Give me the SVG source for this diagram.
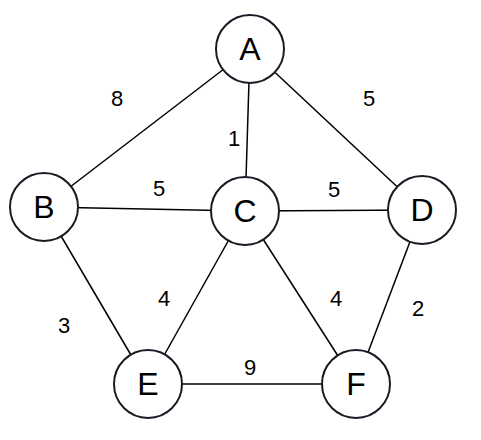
<svg xmlns="http://www.w3.org/2000/svg" width="481" height="440" viewBox="0 0 481 440">
<style>
.edge{stroke:#000;stroke-width:1.5;fill:none}
.node circle{fill:#fff;stroke:#1a1a24;stroke-width:2}
.node text{font-family:"Liberation Sans",Arial,sans-serif;font-size:32px;fill:#000;text-anchor:middle;dominant-baseline:central}
.lbl{font-family:"Liberation Sans",Arial,sans-serif;font-size:22px;fill:#000;text-anchor:middle;dominant-baseline:central}
</style>
<rect width="481" height="440" fill="#fff"/>
<g id="edges">
<line class="edge" x1="250" y1="49" x2="44" y2="207"/>
<line class="edge" x1="250" y1="49" x2="245" y2="211"/>
<line class="edge" x1="250" y1="49" x2="422" y2="210"/>
<line class="edge" x1="44" y1="207" x2="245" y2="211"/>
<line class="edge" x1="245" y1="211" x2="422" y2="210"/>
<line class="edge" x1="44" y1="207" x2="148" y2="384"/>
<line class="edge" x1="245" y1="211" x2="148" y2="384"/>
<line class="edge" x1="245" y1="211" x2="356" y2="384"/>
<line class="edge" x1="422" y1="210" x2="356" y2="384"/>
<line class="edge" x1="148" y1="384" x2="356" y2="384"/>
<text class="lbl" x="117" y="98">8</text>
<text class="lbl" x="234" y="138">1</text>
<text class="lbl" x="369" y="98">5</text>
<text class="lbl" x="159" y="188">5</text>
<text class="lbl" x="334" y="189">5</text>
<text class="lbl" x="164" y="298">4</text>
<text class="lbl" x="336" y="298">4</text>
<text class="lbl" x="64" y="325">3</text>
<text class="lbl" x="418" y="308">2</text>
<text class="lbl" x="250" y="367">9</text>
</g>
<g id="A" class="node"><circle cx="250" cy="49" r="34"/><text x="250" y="49">A</text></g>
<g id="B" class="node"><circle cx="44" cy="207" r="34"/><text x="44" y="207">B</text></g>
<g id="C" class="node"><circle cx="245" cy="211" r="34"/><text x="245" y="211">C</text></g>
<g id="D" class="node"><circle cx="422" cy="210" r="34"/><text x="422" y="210">D</text></g>
<g id="E" class="node"><circle cx="148" cy="384" r="34"/><text x="148" y="384">E</text></g>
<g id="F" class="node"><circle cx="356" cy="384" r="34"/><text x="356" y="384">F</text></g>
</svg>
